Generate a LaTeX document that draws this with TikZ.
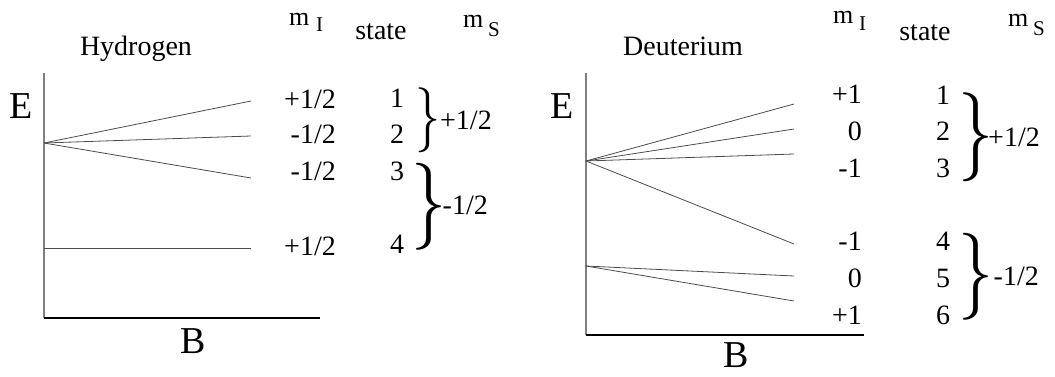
\documentclass[tikz,border=0pt]{standalone}
\usepackage{fontspec}
\setmainfont{Liberation Serif}
\begin{document}
\begin{tikzpicture}[x=1pt,y=-1pt,
  txt/.style={inner sep=0pt,font=\fontsize{28}{30}\selectfont},
  big/.style={inner sep=0pt,font=\fontsize{38}{40}\selectfont},
  hd/.style={inner sep=0pt,font=\fontsize{26}{28}\selectfont},
  sub/.style={inner sep=0pt,font=\fontsize{21}{23}\selectfont},
  brc/.style={inner sep=0pt,anchor=west},
  lvl/.style={draw=black!70,line width=0.8pt},
  yaxis/.style={draw=black!50,line width=1.2pt},
  xaxis/.style={draw=black,line width=1.5pt}]
\useasboundingbox (0,0) rectangle (1055,376);
% ---------- Hydrogen ----------
\node[txt,anchor=base] (hname) at (136,55) {Hydrogen};
\node[big,anchor=base] (hE) at (21.5,118) {E};
\node[big,anchor=base] (hB) at (193.5,353) {B};
\coordinate (hTop) at (44,73);
\coordinate (hO) at (44,318);
\coordinate (hR) at (320,318);
\draw[yaxis] (hTop) -- (hO);
\draw[xaxis] (hO) -- (hR);
\coordinate (hS) at (44,143);
\coordinate (h1) at (251,101);
\coordinate (h2) at (251,136);
\coordinate (h3) at (251,178);
\coordinate (h4s) at (44,248);
\coordinate (h4) at (251,248);
\draw[lvl] (hS) -- (h1);
\draw[lvl] (hS) -- (h2);
\draw[lvl] (hS) -- (h3);
\draw[lvl] (h4s) -- (h4);
% headers
\node[hd,anchor=base west] (hm) at (289,25) {m};
\node[sub,anchor=base west] (hI) at (316,31) {I};
\node[txt,anchor=base] (hst) at (381,39) {state};
\node[hd,anchor=base west] (hm2) at (463,27) {m};
\node[sub,anchor=base west] (hSs) at (488,36) {S};
% mI
\node[txt,anchor=base east] (hmi1) at (336,108) {+1/2};
\node[txt,anchor=base east] (hmi2) at (336,143) {-1/2};
\node[txt,anchor=base east] (hmi3) at (336,180) {-1/2};
\node[txt,anchor=base east] (hmi4) at (336,255) {+1/2};
% states
\node[txt,anchor=base] (hs1) at (397,107) {1};
\node[txt,anchor=base] (hs2) at (397,143) {2};
\node[txt,anchor=base] (hs3) at (397,180) {3};
\node[txt,anchor=base] (hs4) at (397,253) {4};
% braces
\node[brc] (hb1) at (415,120.5) {\scalebox{5.0}[6.5]{$\}$}};
\node[txt,anchor=base west] (hl1) at (440,129) {+1/2};
\node[brc] (hb2) at (411,206.5) {\scalebox{7.0}[8.7]{$\}$}};
\node[txt,anchor=base east] (hl2) at (488,214) {-1/2};
% ---------- Deuterium ----------
\node[txt,anchor=base] (dname) at (683,55) {Deuterium};
\node[big,anchor=base] (dE) at (562.5,118) {E};
\node[big,anchor=base] (dB) at (736,367) {B};
\coordinate (dTop) at (586,73);
\coordinate (dO) at (586,335);
\coordinate (dR) at (864,335);
\draw[yaxis] (dTop) -- (dO);
\draw[xaxis] (dO) -- (dR);
\coordinate (dS) at (586,161);
\coordinate (d1) at (794,104);
\coordinate (d2) at (794,129);
\coordinate (d3) at (794,154);
\coordinate (d4) at (794,244);
\coordinate (dL) at (586,266);
\coordinate (d5) at (794,276);
\coordinate (d6) at (794,301);
\draw[lvl] (dS) -- (d1);
\draw[lvl] (dS) -- (d2);
\draw[lvl] (dS) -- (d3);
\draw[lvl] (dS) -- (d4);
\draw[lvl] (dL) -- (d5);
\draw[lvl] (dL) -- (d6);
% headers
\node[hd,anchor=base west] (dm) at (833,23) {m};
\node[sub,anchor=base west] (dI) at (859,30) {I};
\node[txt,anchor=base] (dst) at (925,40) {state};
\node[hd,anchor=base west] (dm2) at (1008,26) {m};
\node[sub,anchor=base west] (dSs) at (1033,35) {S};
% mI
\node[txt,anchor=base east] (dmi1) at (862,103) {+1};
\node[txt,anchor=base east] (dmi2) at (862,140) {0};
\node[txt,anchor=base east] (dmi3) at (862,177) {-1};
\node[txt,anchor=base east] (dmi4) at (862,250) {-1};
\node[txt,anchor=base east] (dmi5) at (862,287) {0};
\node[txt,anchor=base east] (dmi6) at (862,324) {+1};
% states
\node[txt,anchor=base] (ds1) at (943,104) {1};
\node[txt,anchor=base] (ds2) at (943,140) {2};
\node[txt,anchor=base] (ds3) at (943,177) {3};
\node[txt,anchor=base] (ds4) at (943,250) {4};
\node[txt,anchor=base] (ds5) at (943,287) {5};
\node[txt,anchor=base] (ds6) at (943,324) {6};
% braces
\node[brc] (db1) at (958,137.5) {\scalebox{7.0}[8.9]{$\}$}};
\node[txt,anchor=base west] (dl1) at (988,146) {+1/2};
\node[brc] (db2) at (958,276.5) {\scalebox{7.0}[8.7]{$\}$}};
\node[txt,anchor=base east] (dl2) at (1039,285) {-1/2};
\end{tikzpicture}
\end{document}
